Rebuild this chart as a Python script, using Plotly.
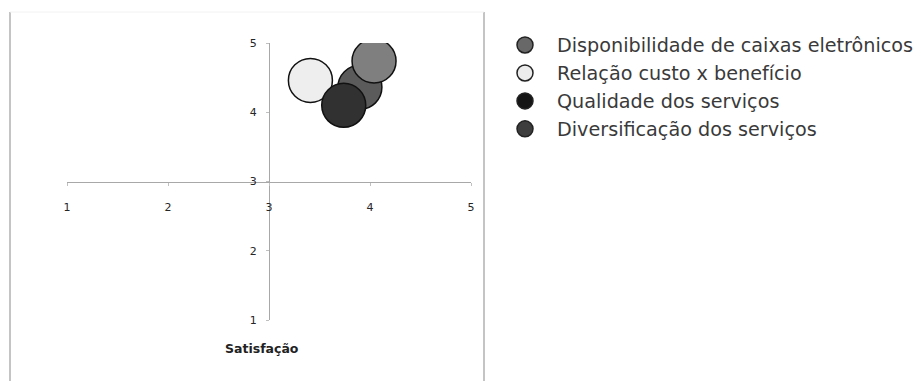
import plotly.graph_objects as go

# Series (legend order) and their bubble positions
series = [
    "Disponibilidade de caixas eletrônicos",
    "Relação custo x benefício",
    "Qualidade dos serviços",
    "Diversificação dos serviços",
]
importancia = [4.04, 3.41, 3.74, 3.90]   # horizontal position
satisfacao = [4.74, 4.46, 4.10, 4.36]    # vertical position
tick_values = [1, 2, 3, 4, 5]
tick_labels = ["1", "2", "3", "4", "5"]
axis_title = "Satisfação"

# Fill colours of the bubbles and of the legend symbols
bubble_colors = ["#7f7f7f", "#eeeeee", "#313131", "#5b5b5b"]
legend_colors = ["#686868", "#ececec", "#151515", "#3d3d3d"]
# Drawing order (later bubbles sit on top)
draw_order = [3, 0, 1, 2]

W, H = 921, 381
# plot box in pixels
X0, X1, Y0, Y1 = 67, 471, 43, 320


def fx(p):
    return p / W


def fy(p):
    return (H - p) / H


fig = go.Figure()

for i in draw_order:
    fig.add_trace(go.Scatter(
        x=[importancia[i]], y=[satisfacao[i]],
        mode="markers",
        marker=dict(size=44, color=bubble_colors[i],
                    line=dict(color="#111111", width=1.5)),
        name=series[i], showlegend=False, hoverinfo="name",
    ))

for i, name in enumerate(series):
    fig.add_trace(go.Scatter(
        x=[None], y=[None], mode="markers",
        marker=dict(size=16, color=legend_colors[i],
                    line=dict(color="#222222", width=1.5)),
        name=name, legendrank=i + 1,
    ))

axis_common = dict(
    range=[1, 5], tickvals=tick_values, ticktext=tick_labels,
    showgrid=False, zeroline=False, showline=True,
    linecolor="#a8a8a8", linewidth=1.3,
    ticks="outside", ticklen=3, tickcolor="#c0c0c0",
    tickfont=dict(family="DejaVu Sans", size=11, color="#262626"),
    anchor="free", fixedrange=True,
)

fig.update_layout(
    width=W, height=H,
    margin=dict(l=0, r=0, t=0, b=0, autoexpand=False),
    paper_bgcolor="white", plot_bgcolor="white",
    xaxis=dict(axis_common, domain=[fx(X0), fx(X1)],
               position=(fy(Y0) + fy(Y1)) / 2, ticklabelstandoff=12),
    yaxis=dict(axis_common, domain=[fy(Y1), fy(Y0)],
               position=(fx(X0) + fx(X1)) / 2, ticklabelstandoff=7),
    showlegend=True,
    legend=dict(
        x=fx(493), y=fy(26), xanchor="left", yanchor="top",
        itemwidth=54, tracegroupgap=0,
        font=dict(family="DejaVu Sans", size=19.2, color="#3a3a3a"),
        bgcolor="rgba(0,0,0,0)",
    ),
    annotations=[dict(
        text="<b>" + axis_title + "</b>", x=3, y=1, xref="x", yref="y",
        xshift=-7, yshift=-28, showarrow=False,
        font=dict(family="DejaVu Sans", size=12.5, color="#222222"),
    )],
    shapes=[
        dict(type="line", xref="paper", yref="paper",
             x0=fx(10), x1=fx(10), y0=fy(12), y1=fy(H),
             line=dict(color="#c4c4c4", width=2)),
        dict(type="line", xref="paper", yref="paper",
             x0=fx(484), x1=fx(484), y0=fy(12), y1=fy(H),
             line=dict(color="#c4c4c4", width=2)),
        dict(type="line", xref="paper", yref="paper",
             x0=fx(10), x1=fx(484), y0=fy(12), y1=fy(12),
             line=dict(color="#f2f2f2", width=1)),
    ],
)

fig.write_html("out.html")
